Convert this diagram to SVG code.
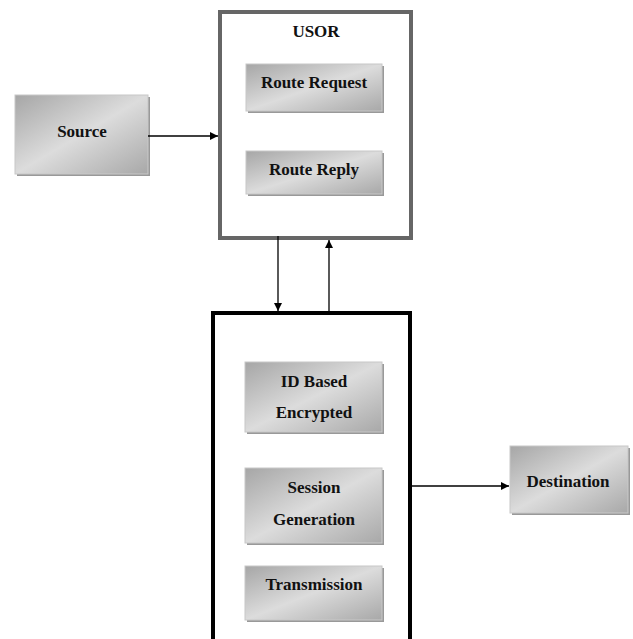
<svg xmlns="http://www.w3.org/2000/svg" width="633" height="639" viewBox="0 0 633 639">
<defs>
<linearGradient id="g" x1="0" y1="0" x2="1" y2="1">
<stop offset="0" stop-color="#a6a6a6"/>
<stop offset="0.5" stop-color="#dcdcdc"/>
<stop offset="1" stop-color="#a8a8a8"/>
</linearGradient>
<marker id="ah" viewBox="0 0 10 10" refX="10" refY="5" markerWidth="8" markerHeight="8" markerUnits="userSpaceOnUse" orient="auto">
<path d="M0,0 L10,5 L0,10 z" fill="#000"/>
</marker>
</defs>
<style>
.box{fill:url(#g);stroke:#c8c8c8;stroke-width:1}
.sh{fill:#999}
.t{font-family:"Liberation Serif","Times New Roman",serif;font-weight:bold;font-size:17px;fill:#111;text-anchor:middle}
.c{stroke:#000;stroke-width:1.3;fill:none;marker-end:url(#ah)}
</style>
<rect width="633" height="639" fill="#fff"/>
<g id="usor">
<rect x="220" y="12" width="191" height="226" fill="#fff" stroke="#666" stroke-width="4"/>
<text class="t" x="316" y="37">USOR</text>
</g>
<g id="route-request">
<rect class="sh" x="248" y="66" width="136" height="47"/>
<rect class="box" x="246" y="64" width="136" height="47"/>
<text class="t" x="314" y="88">Route Request</text>
</g>
<g id="route-reply">
<rect class="sh" x="248" y="153" width="136" height="43"/>
<rect class="box" x="246" y="151" width="136" height="43"/>
<text class="t" x="314" y="175">Route Reply</text>
</g>
<g id="source">
<rect class="sh" x="17" y="97" width="133" height="79"/>
<rect class="box" x="15" y="95" width="133" height="79"/>
<text class="t" x="82" y="137">Source</text>
</g>
<g id="process">
<rect x="213" y="313" width="197" height="340" fill="#fff" stroke="#000" stroke-width="4"/>
</g>
<g id="id-based">
<rect class="sh" x="247" y="364" width="137" height="70"/>
<rect class="box" x="245" y="362" width="137" height="70"/>
<text class="t" x="314" y="387">ID Based</text>
<text class="t" x="314" y="418">Encrypted</text>
</g>
<g id="session">
<rect class="sh" x="247" y="470" width="137" height="75"/>
<rect class="box" x="245" y="468" width="137" height="75"/>
<text class="t" x="314" y="493">Session</text>
<text class="t" x="314" y="525">Generation</text>
</g>
<g id="transmission">
<rect class="sh" x="247" y="568" width="137" height="54"/>
<rect class="box" x="245" y="566" width="137" height="54"/>
<text class="t" x="314" y="590">Transmission</text>
</g>
<g id="destination">
<rect class="sh" x="512" y="448" width="118" height="67"/>
<rect class="box" x="510" y="446" width="118" height="67"/>
<text class="t" x="568" y="487">Destination</text>
</g>
<g id="connectors">
<path class="c" d="M148,136 H218"/>
<path class="c" d="M278,236 V311"/>
<path class="c" d="M329,311 V240"/>
<path class="c" d="M412,486 H509"/>
</g>
</svg>
